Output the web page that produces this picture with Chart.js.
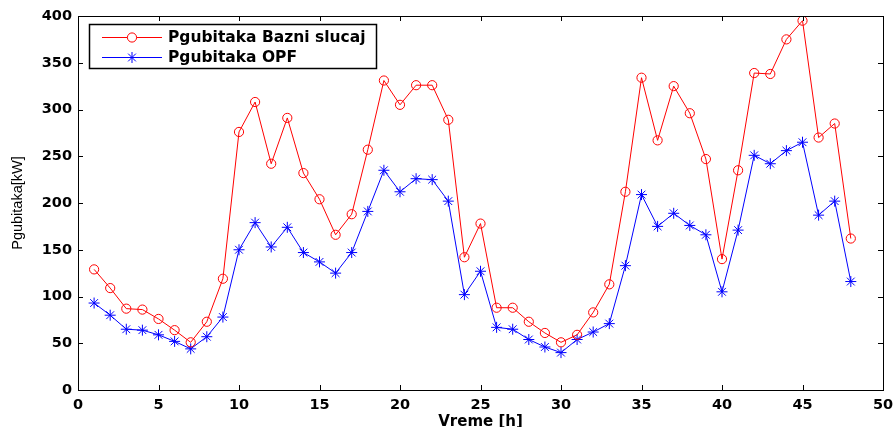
<!DOCTYPE html>
<html>
<head>
<meta charset="utf-8">
<script src="https://cdn.jsdelivr.net/npm/chart.js@4.4.0/dist/chart.umd.min.js"></script>
<style>
html,body{margin:0;padding:0;background:#fff;}
#wrap{width:893px;height:427px;position:relative;}
</style>
</head>
<body>
<div id="wrap"><canvas id="c" width="893" height="427"></canvas></div>
<script>
const hours = [1,2,3,4,5,6,7,8,9,10,11,12,13,14,15,16,17,18,19,20,21,22,23,24,25,26,27,28,29,30,31,32,33,34,35,36,37,38,39,40,41,42,43,44,45,46,47,48];
const baseCase = [129,109,87,86,76,64,51,73,119,276,308,242,291,232,204,166,188,257,331,305,326,326,289,142,178,88,88,73,61,51,59,83,113,212,334,267,325,296,247,140,235,339,338,375,395,270,285,162];
const opfCase = [93,80,65,64,59,52,44,57,78,150,179,153,174,147,137,125,147,191,235,212,226,225,202,102,127,67,65,54,46,40,54,62,71,133,209,175,189,176,166,105,171,251,242,256,265,187,202,116];
const seriesNames = ['Pgubitaka Bazni slucaj','Pgubitaka OPF'];
const xTitle = 'Vreme [h]';
const yTitle = 'Pgubitaka[kW]';

const tickFont = {family:'DejaVu Sans', weight:'bold', size:14.5};

const framePlugin = {
  id:'frame',
  afterDatasetsDraw(chart){
    const ctx = chart.ctx, a = chart.chartArea;
    const xs = chart.scales.x, ys = chart.scales.y;
    ctx.save();
    ctx.strokeStyle = '#000';
    ctx.lineWidth = 1;
    ctx.strokeRect(Math.round(a.left)+0.5, Math.round(a.top)+0.5, Math.round(a.right-a.left), Math.round(a.bottom-a.top));
    const tl = 5;
    ctx.beginPath();
    xs.ticks.forEach(t=>{
      const px = Math.round(xs.getPixelForValue(t.value))+0.5;
      ctx.moveTo(px, a.bottom); ctx.lineTo(px, a.bottom - tl);
      ctx.moveTo(px, a.top); ctx.lineTo(px, a.top + tl);
    });
    ys.ticks.forEach(t=>{
      const py = Math.round(ys.getPixelForValue(t.value))+0.5;
      ctx.moveTo(a.left, py); ctx.lineTo(a.left + tl, py);
      ctx.moveTo(a.right, py); ctx.lineTo(a.right - tl, py);
    });
    ctx.stroke();
    ctx.restore();
  },
  afterDraw(chart){
    const ctx = chart.ctx;
    const bx = 89.5, by = 24.5, bw = 287, bh = 44;
    ctx.save();
    ctx.fillStyle = '#fff';
    ctx.fillRect(bx, by, bw, bh);
    ctx.strokeStyle = '#000';
    ctx.lineWidth = 1.5;
    ctx.strokeRect(bx, by, bw, bh);
    const rows = [37, 57];
    chart.data.datasets.forEach((ds, i)=>{
      const y = rows[i];
      ctx.strokeStyle = ds.borderColor;
      ctx.lineWidth = 1;
      ctx.beginPath();
      ctx.moveTo(102, y+0.5); ctx.lineTo(162, y+0.5);
      ctx.stroke();
      if (Chart.helpers && Chart.helpers.drawPoint) {
        Chart.helpers.drawPoint(ctx, {pointStyle: ds.pointStyle, rotation:0, borderWidth:1, radius: ds.pointRadius}, 132, y+0.5);
      }
      ctx.fillStyle = '#000';
      ctx.font = 'bold 15.5px "DejaVu Sans"';
      ctx.textBaseline = 'middle';
      ctx.textAlign = 'left';
      ctx.fillText(ds.label, 168, y+1);
    });
    ctx.restore();
  }
};

new Chart(document.getElementById('c'), {
  type:'line',
  data:{
    datasets:[
      {label: seriesNames[0], data: hours.map((h,i)=>({x:h, y:baseCase[i]})),
       borderColor:'#ff0000', backgroundColor:'rgba(0,0,0,0)', borderWidth:1,
       pointStyle:'circle', pointRadius:4.6, pointBorderColor:'#ff0000', pointBackgroundColor:'rgba(0,0,0,0)', pointBorderWidth:1, tension:0},
      {label: seriesNames[1], data: hours.map((h,i)=>({x:h, y:opfCase[i]})),
       borderColor:'#0000ff', backgroundColor:'rgba(0,0,0,0)', borderWidth:1,
       pointStyle:'star', pointRadius:5.5, pointBorderColor:'#0000ff', pointBackgroundColor:'rgba(0,0,0,0)', pointBorderWidth:1, tension:0}
    ]
  },
  options:{
    responsive:false, animation:false, devicePixelRatio:1,
    layout:{padding:{left:0, right:10, top:16, bottom:0}},
    plugins:{legend:{display:false}, tooltip:{enabled:false}},
    scales:{
      x:{type:'linear', min:0, max:50,
        ticks:{stepSize:5, color:'#000', font:tickFont, padding:7, maxRotation:0},
        grid:{display:false, drawTicks:false},
        border:{display:false},
        title:{display:true, text:xTitle, color:'#000', font:{family:'DejaVu Sans', weight:'bold', size:15}, padding:{top:0, bottom:-4}},
        afterFit(s){ s.height = 37; s.paddingLeft = 0; s.paddingRight = 0; }
      },
      y:{type:'linear', min:0, max:400,
        ticks:{stepSize:50, color:'#000', font:tickFont, padding:6},
        grid:{display:false, drawTicks:false},
        border:{display:false},
        title:{display:true, text:yTitle, color:'#000', font:{family:'"Liberation Sans", Arial, sans-serif', size:14.5}, padding:{top:9, bottom:0}},
        afterFit(s){ s.width = 78; s.paddingTop = 0; s.paddingBottom = 0; }
      }
    }
  },
  plugins:[framePlugin]
});
</script>
</body>
</html>
